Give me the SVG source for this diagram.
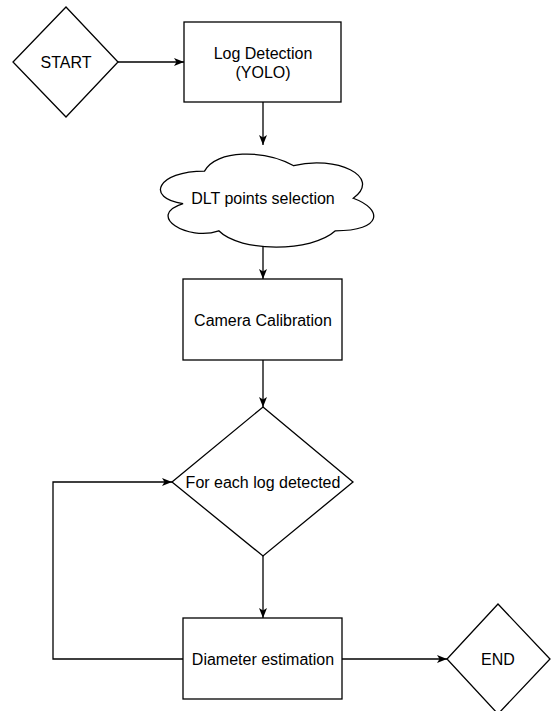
<svg xmlns="http://www.w3.org/2000/svg" width="551" height="711" viewBox="0 0 551 711">
<style>
.shape{fill:#ffffff;stroke:#000000;stroke-width:1.3}
.edge{fill:none;stroke:#000000;stroke-width:1.3}
text{font-family:"Liberation Sans",Arial,Helvetica,sans-serif;font-size:16px;fill:#000000;text-anchor:middle}
</style>
<defs>
<marker id="arr" markerUnits="userSpaceOnUse" markerWidth="11" markerHeight="9" refX="10" refY="4.5" orient="auto">
<path d="M0,0.5 L10,4.5 L0,8.5 L2.5,4.5 z" fill="#000000"/>
</marker>
</defs>
<rect width="551" height="711" fill="#ffffff"/>
<g id="connectors">
<path class="edge" d="M118,62 L184,62" marker-end="url(#arr)"/>
<path class="edge" d="M263,102 L263,145" marker-end="url(#arr)"/>
<path class="edge" d="M263,247 L263,279" marker-end="url(#arr)"/>
<path class="edge" d="M263,360 L263,407" marker-end="url(#arr)"/>
<path class="edge" d="M263,556 L263,618" marker-end="url(#arr)"/>
<path class="edge" d="M342,659 L447,659" marker-end="url(#arr)"/>
<path class="edge" d="M183,659 L53,659 L53,482 L172,482" marker-end="url(#arr)"/>
</g>
<g id="start">
<polygon class="shape" points="66,7 118,62 66,117 13,62"/>
<text x="66" y="68">START</text>
</g>
<g id="log-detection">
<rect class="shape" x="184" y="22" width="157" height="80"/>
<text x="263" y="58.5">Log Detection</text>
<text x="263" y="78">(YOLO)</text>
</g>
<g id="dlt">
<path class="shape" transform="translate(145,144) scale(238,108.5)" vector-effect="non-scaling-stroke" d="M0.25,0.25 C0.05,0.25 0,0.5 0.16,0.55 C0,0.66 0.18,0.9 0.31,0.8 C0.4,1 0.7,1 0.8,0.8 C1,0.8 1,0.6 0.875,0.5 C1,0.3 0.8,0.1 0.625,0.2 C0.5,0.05 0.3,0.05 0.25,0.25 Z"/>
<text x="263" y="204">DLT points selection</text>
</g>
<g id="camera-calibration">
<rect class="shape" x="183" y="279" width="159" height="81"/>
<text x="263" y="325.5">Camera Calibration</text>
</g>
<g id="for-each">
<polygon class="shape" points="263,407 353,482 263,556 172,482"/>
<text x="263" y="488">For each log detected</text>
</g>
<g id="diameter">
<rect class="shape" x="183" y="618" width="159" height="81"/>
<text x="263" y="665">Diameter estimation</text>
</g>
<g id="end">
<polygon class="shape" points="498,604 550,659 498,714 447,659"/>
<text x="498" y="665">END</text>
</g>
</svg>
